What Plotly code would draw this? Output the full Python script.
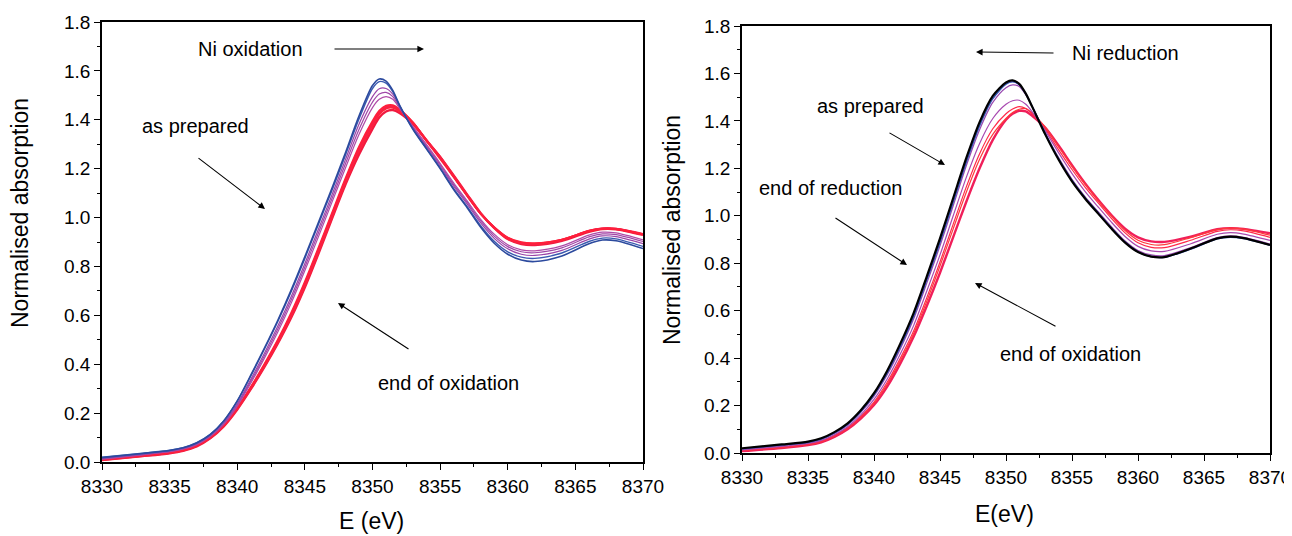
import plotly.graph_objects as go

# Energy grid (eV)
energy = [8330, 8333, 8335, 8336, 8337, 8338, 8339, 8340, 8341, 8342, 8343, 8344, 8345, 8346,
          8347, 8348, 8349, 8350, 8350.5, 8351, 8351.5, 8352, 8353, 8354, 8355, 8356, 8357,
          8358, 8359, 8360, 8361, 8362, 8364, 8366, 8367, 8368, 8370]

# ---- Left panel: Ni oxidation (as prepared -> end of oxidation)
left_blue1 = [0.018, 0.035, 0.047, 0.058, 0.078, 0.112, 0.168, 0.250, 0.355, 0.465, 0.580, 0.705, 0.840, 0.980,
              1.120, 1.265, 1.415, 1.540, 1.567, 1.558, 1.520, 1.460, 1.360, 1.280, 1.200, 1.115, 1.040,
              0.960, 0.895, 0.850, 0.826, 0.820, 0.843, 0.893, 0.908, 0.905, 0.873]
left_blue2 = [0.020, 0.036, 0.048, 0.059, 0.079, 0.113, 0.168, 0.249, 0.352, 0.461, 0.575, 0.699, 0.833, 0.972,
              1.111, 1.255, 1.403, 1.528, 1.556, 1.550, 1.515, 1.458, 1.362, 1.282, 1.203, 1.118, 1.045,
              0.967, 0.903, 0.860, 0.838, 0.833, 0.855, 0.902, 0.916, 0.913, 0.882]
left_purple1 = [0.015, 0.032, 0.045, 0.056, 0.075, 0.108, 0.161, 0.239, 0.338, 0.444, 0.556, 0.678, 0.812, 0.952,
                1.092, 1.237, 1.382, 1.495, 1.527, 1.528, 1.505, 1.455, 1.365, 1.288, 1.210, 1.128, 1.055,
                0.978, 0.915, 0.872, 0.850, 0.845, 0.866, 0.912, 0.925, 0.922, 0.893]
left_purple2 = [0.013, 0.030, 0.043, 0.054, 0.073, 0.106, 0.157, 0.233, 0.330, 0.434, 0.544, 0.665, 0.798, 0.937,
                1.077, 1.220, 1.360, 1.472, 1.505, 1.512, 1.495, 1.452, 1.368, 1.292, 1.216, 1.135, 1.062,
                0.986, 0.924, 0.881, 0.860, 0.856, 0.876, 0.921, 0.933, 0.930, 0.902]
left_purple3 = [0.012, 0.029, 0.042, 0.053, 0.071, 0.104, 0.154, 0.228, 0.322, 0.424, 0.532, 0.651, 0.783, 0.921,
                1.062, 1.203, 1.340, 1.450, 1.484, 1.495, 1.484, 1.447, 1.372, 1.298, 1.222, 1.142, 1.068,
                0.993, 0.932, 0.889, 0.868, 0.864, 0.884, 0.928, 0.940, 0.937, 0.909]
left_red1 = [0.011, 0.027, 0.039, 0.049, 0.068, 0.101, 0.151, 0.222, 0.307, 0.400, 0.500, 0.612, 0.738, 0.876,
             1.018, 1.160, 1.290, 1.395, 1.437, 1.458, 1.460, 1.443, 1.388, 1.313, 1.240, 1.165, 1.088,
             1.015, 0.960, 0.918, 0.899, 0.895, 0.910, 0.945, 0.954, 0.953, 0.932]
left_red2 = [0.010, 0.026, 0.038, 0.048, 0.067, 0.100, 0.150, 0.220, 0.304, 0.396, 0.495, 0.605, 0.730, 0.868,
             1.010, 1.152, 1.281, 1.386, 1.430, 1.452, 1.455, 1.440, 1.388, 1.315, 1.245, 1.168, 1.090,
             1.016, 0.960, 0.917, 0.897, 0.893, 0.909, 0.946, 0.955, 0.954, 0.933]
left_red3 = [0.009, 0.025, 0.037, 0.047, 0.066, 0.099, 0.148, 0.218, 0.301, 0.392, 0.490, 0.599, 0.722, 0.860,
             1.002, 1.144, 1.272, 1.377, 1.422, 1.446, 1.450, 1.436, 1.386, 1.316, 1.248, 1.170, 1.092,
             1.016, 0.958, 0.914, 0.895, 0.891, 0.908, 0.945, 0.955, 0.954, 0.931]
left_red4 = [0.008, 0.024, 0.036, 0.046, 0.064, 0.097, 0.146, 0.215, 0.298, 0.388, 0.485, 0.592, 0.715, 0.852,
             0.995, 1.135, 1.258, 1.363, 1.409, 1.434, 1.440, 1.428, 1.382, 1.314, 1.248, 1.172, 1.094,
             1.018, 0.958, 0.912, 0.892, 0.888, 0.905, 0.942, 0.953, 0.952, 0.929]

# ---- Right panel: Ni reduction (end of oxidation -> end of reduction)
right_black = [0.020, 0.036, 0.048, 0.062, 0.088, 0.125, 0.180, 0.252, 0.347, 0.462, 0.590, 0.745, 0.905, 1.075,
               1.245, 1.395, 1.505, 1.562, 1.571, 1.556, 1.515, 1.458, 1.340, 1.235, 1.145, 1.072, 1.008,
               0.945, 0.888, 0.847, 0.828, 0.826, 0.862, 0.905, 0.912, 0.906, 0.877]
right_blue = [0.018, 0.034, 0.046, 0.059, 0.085, 0.121, 0.175, 0.246, 0.338, 0.450, 0.577, 0.730, 0.888, 1.058,
              1.228, 1.380, 1.494, 1.555, 1.565, 1.553, 1.514, 1.459, 1.343, 1.239, 1.149, 1.075, 1.011,
              0.948, 0.890, 0.848, 0.828, 0.825, 0.860, 0.903, 0.910, 0.904, 0.876]
right_purple1 = [0.016, 0.032, 0.044, 0.057, 0.082, 0.118, 0.171, 0.240, 0.330, 0.440, 0.565, 0.716, 0.873, 1.042,
                 1.212, 1.363, 1.478, 1.540, 1.552, 1.545, 1.510, 1.458, 1.346, 1.244, 1.154, 1.080, 1.016,
                 0.953, 0.895, 0.854, 0.835, 0.832, 0.866, 0.908, 0.915, 0.909, 0.881]
right_purple2 = [0.013, 0.028, 0.040, 0.053, 0.077, 0.111, 0.161, 0.226, 0.312, 0.418, 0.537, 0.683, 0.835, 1.000,
                 1.163, 1.305, 1.410, 1.470, 1.485, 1.487, 1.470, 1.437, 1.356, 1.264, 1.178, 1.102, 1.036,
                 0.972, 0.914, 0.871, 0.852, 0.850, 0.882, 0.922, 0.929, 0.923, 0.896]
right_red1 = [0.011, 0.025, 0.037, 0.050, 0.074, 0.106, 0.154, 0.215, 0.298, 0.400, 0.514, 0.655, 0.805, 0.965,
              1.123, 1.262, 1.367, 1.430, 1.450, 1.460, 1.452, 1.428, 1.362, 1.277, 1.195, 1.120, 1.053,
              0.988, 0.929, 0.886, 0.867, 0.866, 0.897, 0.934, 0.941, 0.936, 0.909]
right_red2 = [0.010, 0.023, 0.035, 0.048, 0.072, 0.104, 0.150, 0.210, 0.290, 0.390, 0.503, 0.640, 0.788, 0.945,
              1.100, 1.238, 1.343, 1.410, 1.435, 1.449, 1.452, 1.432, 1.372, 1.290, 1.208, 1.132, 1.063,
              0.998, 0.939, 0.897, 0.879, 0.878, 0.908, 0.942, 0.948, 0.944, 0.918]
right_red3 = [0.008, 0.021, 0.033, 0.045, 0.068, 0.100, 0.145, 0.202, 0.280, 0.378, 0.490, 0.620, 0.760, 0.910,
              1.060, 1.200, 1.320, 1.405, 1.430, 1.442, 1.440, 1.420, 1.370, 1.295, 1.213, 1.136, 1.066,
              1.002, 0.947, 0.909, 0.892, 0.890, 0.912, 0.943, 0.948, 0.945, 0.926]

x_ticks = [8330, 8335, 8340, 8345, 8350, 8355, 8360, 8365, 8370]
y_ticks = [0.0, 0.2, 0.4, 0.6, 0.8, 1.0, 1.2, 1.4, 1.6, 1.8]

left_series = [
    (left_red4, "#f01a40", 2.4), (left_red3, "#ff2238", 2.2), (left_red2, "#f5204a", 2.0),
    (left_red1, "#ff1f3a", 1.8),
    (left_purple3, "#b04aa8", 1.2), (left_purple2, "#a048a8", 1.2), (left_purple1, "#9a44a8", 1.2),
    (left_blue2, "#3a5ab0", 1.4), (left_blue1, "#2c4a9e", 1.6),
]
right_series = [
    (right_red3, "#f01f5a", 2.4), (right_red2, "#ff3a3a", 1.2), (right_red1, "#ff2a4a", 1.2),
    (right_purple2, "#a848b0", 1.2), (right_purple1, "#9848b0", 1.2),
    (right_blue, "#3050b0", 1.6), (right_black, "#000000", 2.2),
]

fig = go.Figure()
for ys, col, w in left_series:
    fig.add_trace(go.Scatter(x=energy, y=ys, mode="lines", line=dict(color=col, width=w, shape="spline", smoothing=0.8),
                             xaxis="x", yaxis="y", showlegend=False, hoverinfo="skip"))
for ys, col, w in right_series:
    fig.add_trace(go.Scatter(x=energy, y=ys, mode="lines", line=dict(color=col, width=w, shape="spline", smoothing=0.8),
                             xaxis="x2", yaxis="y2", showlegend=False, hoverinfo="skip"))

W, H = 1292, 536
OFF = 8  # page body margin offset of the plot div
FONT = "Arial, Liberation Sans, sans-serif"


def fx(x):
    return (x - OFF) / W


def fy(y):
    return 1 - (y - OFF) / H


def xaxis_cfg(domain, anchor):
    return dict(domain=domain, range=[8330, 8370], tickvals=x_ticks, ticktext=[str(v) for v in x_ticks],
                anchor=anchor, automargin=False,
                showline=True, linecolor="black", linewidth=1.5, mirror=True, ticks="outside", ticklen=6,
                tickwidth=1.2, tickcolor="black", showgrid=False, zeroline=False,
                minor=dict(dtick=2.5, tick0=8330, ticks="outside", ticklen=3, tickwidth=1, tickcolor="black", showgrid=False),
                tickfont=dict(family=FONT, size=19, color="black"))


def yaxis_cfg(domain, anchor):
    return dict(domain=domain, range=[0, 1.8], tickvals=y_ticks, ticktext=[f"{v:.1f}" for v in y_ticks],
                anchor=anchor, automargin=False,
                showline=True, linecolor="black", linewidth=1.5, mirror=True, ticks="outside", ticklen=6,
                tickwidth=1.2, tickcolor="black", showgrid=False, zeroline=False,
                minor=dict(dtick=0.1, tick0=0, ticks="outside", ticklen=3, tickwidth=1, tickcolor="black", showgrid=False),
                tickfont=dict(family=FONT, size=19, color="black"))


fig.update_layout(
    width=W, height=H, margin=dict(l=0, r=0, t=0, b=0),
    paper_bgcolor="white", plot_bgcolor="white",
    xaxis=xaxis_cfg([fx(102), fx(643)], "y"),
    yaxis=yaxis_cfg([fy(462), fy(22)], "x"),
    xaxis2=xaxis_cfg([fx(742), fx(1270)], "y2"),
    yaxis2=yaxis_cfg([fy(453), fy(26)], "x2"),
)

# axis titles
titles = [("Normalised absorption", 20, 213, -90), ("Normalised absorption", 672, 230, -90),
          ("E (eV)", 372, 521, 0), ("E(eV)", 1004, 514, 0)]
for t, x, y, ang in titles:
    fig.add_annotation(x=fx(x), y=fy(y), xref="paper", yref="paper", text=t, showarrow=False, textangle=ang,
                       font=dict(family=FONT, size=23, color="black"), xanchor="center", yanchor="middle")

texts = [("Ni oxidation", 250, 49), ("as prepared", 195, 126), ("end of oxidation", 448, 383),
         ("Ni reduction", 1125, 53), ("as prepared", 870, 106), ("end of reduction", 830, 188),
         ("end of oxidation", 1070, 354)]
for t, x, y in texts:
    fig.add_annotation(x=fx(x), y=fy(y), xref="paper", yref="paper", text=t, showarrow=False,
                       font=dict(family=FONT, size=20, color="black"), xanchor="center", yanchor="middle")

# arrows: (tail x, tail y, head x, head y) in reference pixels
arrows = [(333, 49, 424, 49), (197, 157, 265, 209), (410, 350, 338, 303),
          (1055, 53, 976, 52), (888, 132, 945, 165), (834, 217, 907, 265), (1057, 327, 975, 283)]
for tx, ty, hx, hy in arrows:
    fig.add_annotation(x=fx(hx), y=fy(hy), xref="paper", yref="paper", ax=tx - hx, ay=ty - hy,
                       axref="pixel", ayref="pixel",
                       text="", showarrow=True, arrowhead=2, arrowsize=1.2, arrowwidth=1.1, arrowcolor="black")

fig.write_html("out.html")
